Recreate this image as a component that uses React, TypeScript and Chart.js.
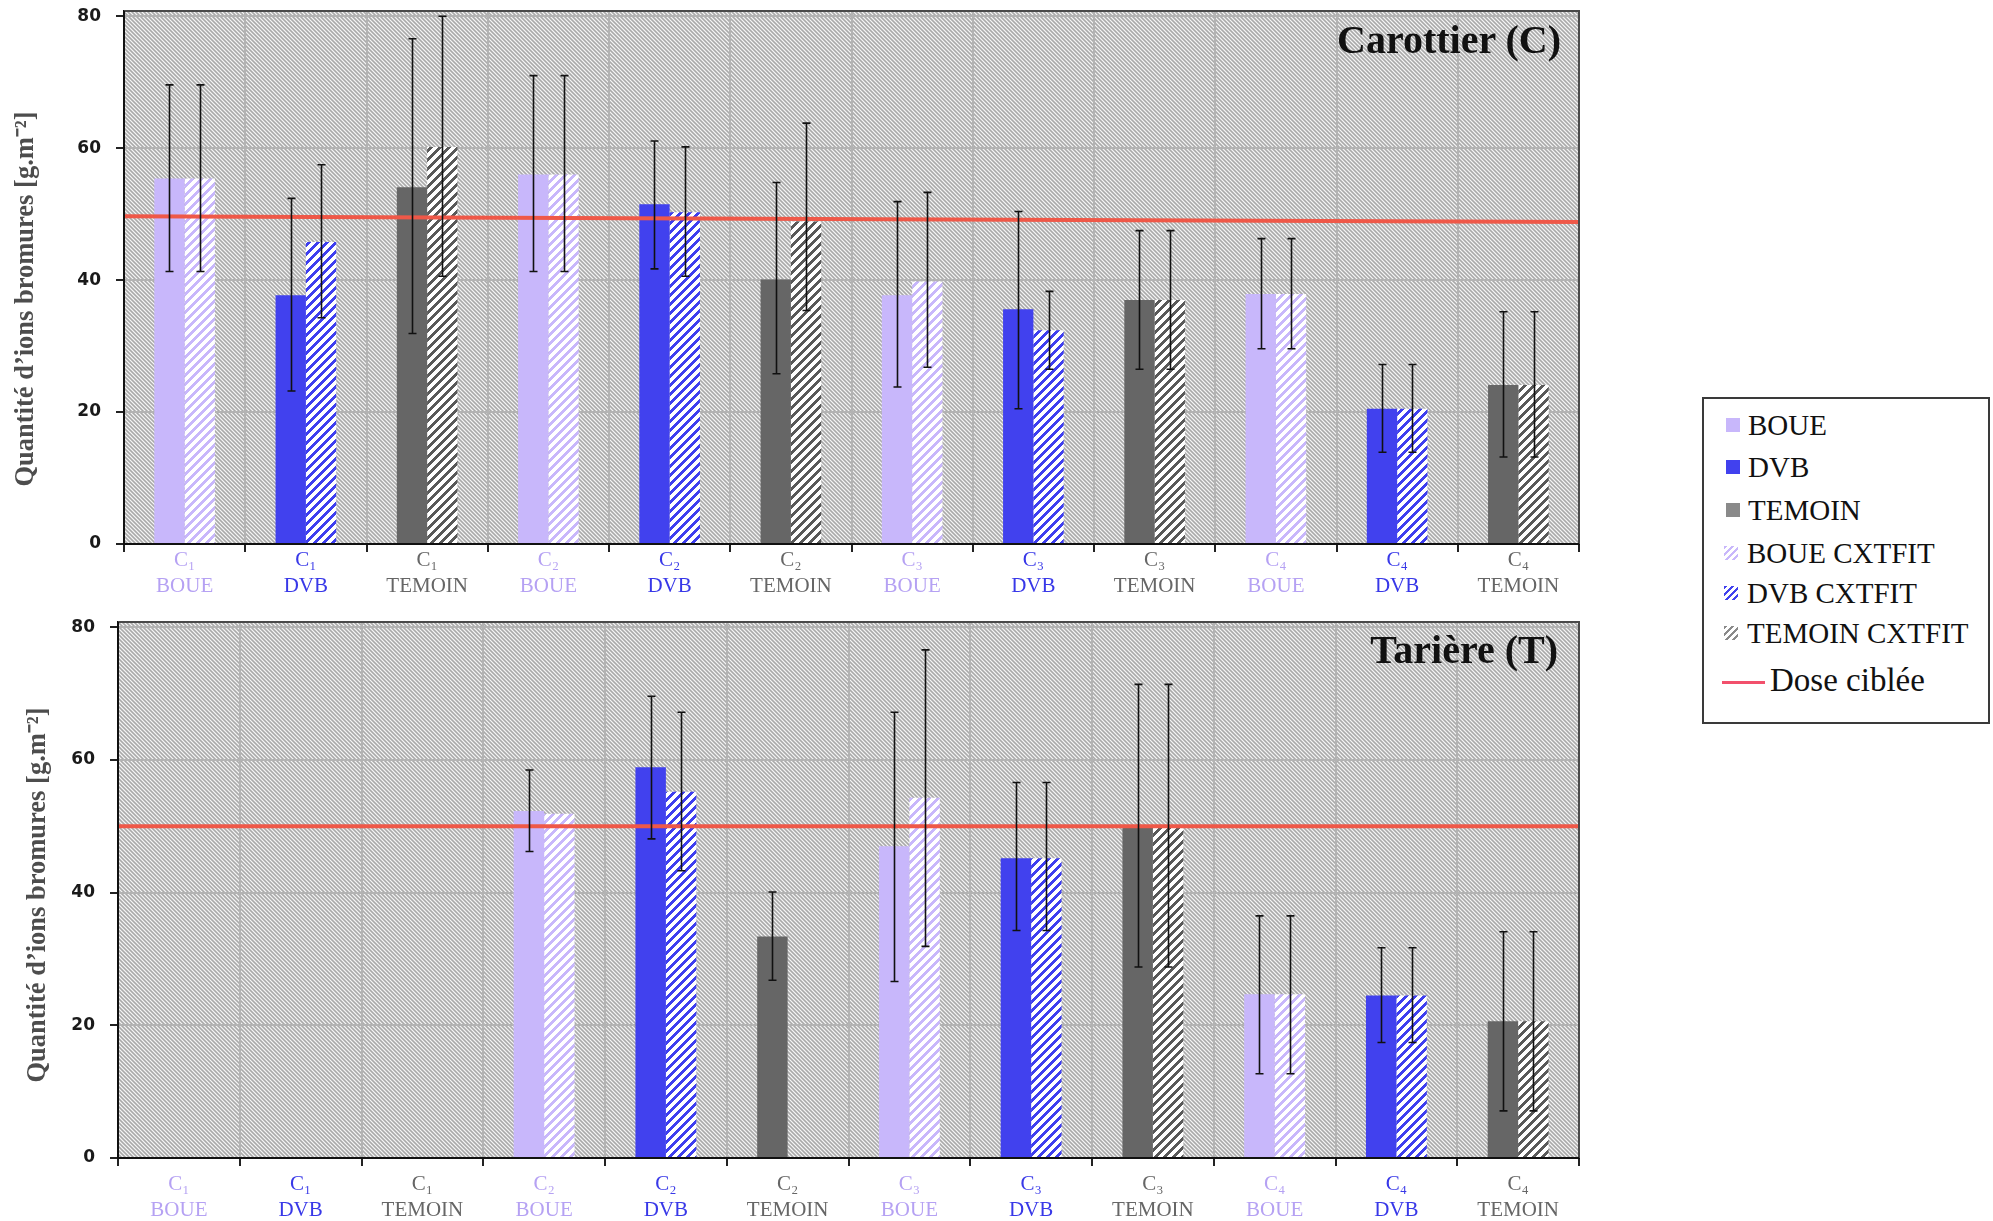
import React, { useEffect, useRef } from 'react';
import { Chart, registerables } from 'chart.js';

Chart.register(...registerables);

// ---------- data ----------
const siteLabels = ['C₁', 'C₁', 'C₁', 'C₂', 'C₂', 'C₂', 'C₃', 'C₃', 'C₃', 'C₄', 'C₄', 'C₄'];
const treatmentLabels = ['BOUE', 'DVB', 'TEMOIN', 'BOUE', 'DVB', 'TEMOIN', 'BOUE', 'DVB', 'TEMOIN', 'BOUE', 'DVB', 'TEMOIN'];
const yTicks = [0, 20, 40, 60, 80];
const yMax = 80.8;

// Carottier (C)
const carottierMeasured = [55.4, 37.7, 54.1, 56.0, 51.5, 40.1, 37.7, 35.6, 37.0, 37.9, 20.5, 24.1];
const carottierCxtfit = [55.4, 45.8, 60.2, 56.0, 50.3, 48.9, 39.8, 32.4, 37.0, 37.9, 20.5, 24.1];
const carottierMeasuredLow = [41.3, 23.2, 31.9, 41.3, 41.7, 25.8, 23.8, 20.5, 26.5, 29.6, 13.9, 13.2];
const carottierMeasuredHigh = [69.6, 52.4, 76.6, 71.0, 61.1, 54.8, 51.9, 50.4, 47.5, 46.3, 27.2, 35.2];
const carottierCxtfitLow = [41.3, 34.3, 40.6, 41.3, 40.6, 35.4, 26.8, 26.5, 26.5, 29.6, 13.9, 13.2];
const carottierCxtfitHigh = [69.6, 57.5, 80.0, 71.0, 60.2, 63.8, 53.3, 38.3, 47.5, 46.3, 27.2, 35.2];
const carottierDose = [49.7, 48.8];

// Tarière (T)
const tariereMeasured = [null, null, null, 52.3, 58.9, 33.4, 47.0, 45.2, 49.9, 24.7, 24.5, 20.6];
const tariereCxtfit = [null, null, null, 51.9, 55.2, null, 54.3, 45.2, 49.9, 24.7, 24.5, 20.6];
const tariereMeasuredLow = [null, null, null, 46.2, 48.1, 26.8, 26.6, 34.3, 28.8, 12.7, 17.4, 7.1];
const tariereMeasuredHigh = [null, null, null, 58.5, 69.6, 40.1, 67.2, 56.6, 71.4, 36.5, 31.7, 34.1];
const tariereCxtfitLow = [null, null, null, null, 43.3, null, 31.9, 34.3, 28.8, 12.7, 17.4, 7.1];
const tariereCxtfitHigh = [null, null, null, null, 67.2, null, 76.6, 56.6, 71.4, 36.5, 31.7, 34.1];
const tariereDose = [50.0, 50.0];

const yTitle = 'Quantité d’ions bromures [g.m⁻²]';
const legendLabels = ['BOUE', 'DVB', 'TEMOIN', 'BOUE CXTFIT', 'DVB CXTFIT', 'TEMOIN CXTFIT'];
const doseLabel = 'Dose ciblée';

// ---------- styles ----------
const fillColors: any = { BOUE: '#C8B7FB', DVB: '#4141EE', TEMOIN: '#666666' };
const stripeColors: any = { BOUE: '#C8B7FB', DVB: '#3E3EEF', TEMOIN: '#595959' };
const textColors: any = { BOUE: '#B5A1F3', DVB: '#3838E8', TEMOIN: '#666666' };
const legendFill: any = { BOUE: '#C8B7FB', DVB: '#4141EE', TEMOIN: '#8a8a8a' };
const doseColor = '#EF5848';
const doseLegendColor = '#F2506C';
const bgShades = ['#a9a9a9', '#c4c4c4', '#f4f4f4', '#c4c4c4'];

function makeChart(canvas: HTMLCanvasElement, spec: any) {
  const ctx = canvas.getContext('2d') as CanvasRenderingContext2D;
  const tileOf = (period: number) => {
    const tile = document.createElement('canvas');
    tile.width = period;
    tile.height = period;
    return tile;
  };
  // soft "\" hatch for the plot background
  const bgTile = tileOf(4);
  const bg = bgTile.getContext('2d') as CanvasRenderingContext2D;
  for (let y = 0; y < 4; y++) {
    for (let x = 0; x < 4; x++) {
      bg.fillStyle = bgShades[(((x - y) % 4) + 4) % 4];
      bg.fillRect(x, y, 1, 1);
    }
  }
  const bgPattern = ctx.createPattern(bgTile, 'repeat') as CanvasPattern;
  // "/" hatch for the CXTFIT bars
  const stripe = (fg: string) => {
    const period = 9;
    const t = tileOf(period);
    const g = t.getContext('2d') as CanvasRenderingContext2D;
    g.fillStyle = '#ffffff';
    g.fillRect(0, 0, period, period);
    g.fillStyle = fg;
    for (let y = 0; y < period; y++) {
      for (let x = 0; x < period; x++) {
        if ((x + y) % period < 4) g.fillRect(x, y, 1, 1);
      }
    }
    return ctx.createPattern(t, 'repeat') as CanvasPattern;
  };
  const fitFill = treatmentLabels.map((t) => stripe(stripeColors[t]));
  const lows = [spec.mLow, spec.fLow];
  const highs = [spec.mHigh, spec.fHigh];

  const plugins: any[] = [
    {
      id: 'plotBg',
      beforeDraw(chart: any) {
        const { ctx: c, chartArea: a } = chart;
        c.save();
        c.fillStyle = bgPattern;
        c.fillRect(a.left, a.top, a.right - a.left, a.bottom - a.top);
        c.restore();
      },
    },
    {
      id: 'doseLine',
      afterDatasetsDraw(chart: any) {
        const { ctx: c, chartArea: a } = chart;
        const ys = chart.scales.y;
        c.save();
        c.strokeStyle = doseColor;
        c.lineWidth = 4;
        c.beginPath();
        c.moveTo(a.left, ys.getPixelForValue(spec.dose[0]));
        c.lineTo(a.right, ys.getPixelForValue(spec.dose[1]));
        c.stroke();
        c.restore();
      },
    },
    {
      id: 'errBars',
      afterDatasetsDraw(chart: any) {
        const { ctx: c } = chart;
        const ys = chart.scales.y;
        c.save();
        c.strokeStyle = '#111111';
        c.lineWidth = 1.6;
        for (let d = 0; d < 2; d++) {
          const meta = chart.getDatasetMeta(d);
          meta.data.forEach((bar: any, j: number) => {
            const lo = lows[d][j];
            const hi = highs[d][j];
            if (lo == null || hi == null) return;
            const x = Math.round(bar.x) + 0.5;
            const y1 = ys.getPixelForValue(hi);
            const y2 = ys.getPixelForValue(lo);
            c.beginPath();
            c.moveTo(x, y1);
            c.lineTo(x, y2);
            c.moveTo(x - 4, y1);
            c.lineTo(x + 4, y1);
            c.moveTo(x - 4, y2);
            c.lineTo(x + 4, y2);
            c.stroke();
          });
        }
        c.restore();
      },
    },
    {
      id: 'frame',
      afterDatasetsDraw(chart: any) {
        const { ctx: c, chartArea: a } = chart;
        c.save();
        c.lineWidth = 2;
        c.strokeStyle = '#4a4a4a';
        c.beginPath();
        c.moveTo(a.left, a.top);
        c.lineTo(a.right, a.top);
        c.lineTo(a.right, a.bottom);
        c.stroke();
        c.strokeStyle = '#111111';
        c.beginPath();
        c.moveTo(a.left, a.top);
        c.lineTo(a.left, a.bottom);
        c.lineTo(a.right, a.bottom);
        c.stroke();
        c.restore();
      },
    },
    {
      id: 'yTitle',
      afterDraw(chart: any) {
        const c = chart.ctx;
        c.save();
        c.translate(spec.titleX, spec.titleY);
        c.rotate(-Math.PI / 2);
        c.font = 'bold 26.5px "Liberation Serif", serif';
        c.fillStyle = '#4d4d4d';
        c.textAlign = 'center';
        c.textBaseline = 'middle';
        c.fillText(yTitle, 0, 0);
        c.restore();
      },
    },
  ];

  return new Chart(ctx, {
    type: 'bar',
    data: {
      labels: siteLabels.map((s, i) => [s, treatmentLabels[i]]),
      datasets: [
        {
          label: 'Mesure',
          data: spec.measured,
          backgroundColor: treatmentLabels.map((t) => fillColors[t]),
          borderWidth: 0,
        },
        {
          label: 'CXTFIT',
          data: spec.cxtfit,
          backgroundColor: fitFill,
          borderWidth: 0,
        },
      ] as any,
    },
    options: {
      responsive: false,
      animation: false,
      devicePixelRatio: 1,
      categoryPercentage: 0.5,
      barPercentage: 1,
      layout: { padding: { left: 0, top: spec.padTop, right: 1600 - 1579, bottom: 0 } },
      plugins: { legend: { display: false }, tooltip: { enabled: false }, title: { display: false } },
      scales: {
        x: {
          type: 'category',
          offset: true,
          grid: { offset: true, color: '#b3b3b3', lineWidth: 2, tickColor: '#222222', tickLength: 8, drawTicks: true },
          border: { display: true, color: '#111111', width: 2 },
          ticks: {
            color: (c: any) => textColors[treatmentLabels[c.index]] || '#666',
            font: { family: '"Liberation Serif", serif', size: 21, lineHeight: 1.22 },
            padding: spec.labelPad,
            maxRotation: 0,
            minRotation: 0,
            autoSkip: false,
          },
          afterFit: (s: any) => {
            s.height = spec.axisHeight;
            s.paddingLeft = 0;
            s.paddingRight = 0;
          },
        },
        y: {
          min: 0,
          max: yMax,
          afterBuildTicks: (s: any) => {
            s.ticks = yTicks.map((v) => ({ value: v }));
          },
          afterFit: (s: any) => {
            s.width = spec.axisWidth;
            s.paddingTop = 0;
            s.paddingBottom = 0;
          },
          grid: { color: '#b3b3b3', lineWidth: 2, tickColor: '#222222', tickLength: 8, drawTicks: true },
          border: { display: true, color: '#111111', width: 2 },
          ticks: {
            color: '#1a1a1a',
            font: { family: '"DejaVu Sans", sans-serif', size: 17, weight: 'bold' },
            padding: 15,
          },
          title: { display: false, text: yTitle },
        },
      },
    } as any,
    plugins,
  });
}

const carottierSpec = {
  measured: carottierMeasured,
  cxtfit: carottierCxtfit,
  mLow: carottierMeasuredLow,
  mHigh: carottierMeasuredHigh,
  fLow: carottierCxtfitLow,
  fHigh: carottierCxtfitHigh,
  dose: carottierDose,
  axisWidth: 124,
  padTop: 11,
  axisHeight: 56,
  titleX: 26,
  titleY: 299,
  labelPad: -4,
};

const tariereSpec = {
  measured: tariereMeasured,
  cxtfit: tariereCxtfit,
  mLow: tariereMeasuredLow,
  mHigh: tariereMeasuredHigh,
  fLow: tariereCxtfitLow,
  fHigh: tariereCxtfitHigh,
  dose: tariereDose,
  axisWidth: 118,
  padTop: 22,
  axisHeight: 63,
  titleX: 38,
  titleY: 295,
  labelPad: 6,
};

const serif = '"Liberation Serif", "Times New Roman", serif';

function Swatch({ name, hatched, top }: any) {
  const key = name.split(' ')[0];
  const color = legendFill[key];
  const style: any = {
    position: 'absolute',
    left: hatched ? 1724 : 1726,
    top,
    width: 14,
    height: 14,
    background: hatched
      ? `repeating-linear-gradient(135deg, ${color} 0px, ${color} 2.2px, #ffffff 2.2px, #ffffff 5px)`
      : color,
  };
  return <div style={style} />;
}

export default function App() {
  const topRef = useRef<HTMLCanvasElement>(null);
  const botRef = useRef<HTMLCanvasElement>(null);

  useEffect(() => {
    const a = makeChart(topRef.current as HTMLCanvasElement, carottierSpec);
    const b = makeChart(botRef.current as HTMLCanvasElement, tariereSpec);
    return () => {
      a.destroy();
      b.destroy();
    };
  }, []);

  const rowBaselines = [435, 477, 520, 563, 603, 643];
  const textStyle = (baseline: number, size: number, left: number): any => ({
    position: 'absolute',
    left,
    top: baseline - 0.8375 * size,
    font: `${size}px ${serif}`,
    lineHeight: `${size}px`,
    color: '#111111',
    whiteSpace: 'nowrap',
  });

  return (
    <div style={{ position: 'fixed', left: 0, top: 0, width: 1993, height: 1221, background: '#ffffff', overflow: 'hidden' }}>
      <canvas ref={topRef} width={1600} height={600} style={{ position: 'absolute', left: 0, top: 0 }} />
      <canvas ref={botRef} width={1600} height={621} style={{ position: 'absolute', left: 0, top: 600 }} />
      <div
        style={{
          position: 'absolute',
          left: 1000,
          width: 561,
          top: 20,
          textAlign: 'right',
          font: `bold 40px ${serif}`,
          lineHeight: '40px',
          color: '#111111',
        }}
      >
        Carottier (C)
      </div>
      <div
        style={{
          position: 'absolute',
          left: 1000,
          width: 558,
          top: 630,
          textAlign: 'right',
          font: `bold 40px ${serif}`,
          lineHeight: '40px',
          color: '#111111',
        }}
      >
        Tarière (T)
      </div>
      <div
        style={{
          position: 'absolute',
          left: 1702,
          top: 397,
          width: 288,
          height: 327,
          border: '2px solid #3a3a3a',
          boxSizing: 'border-box',
          background: '#ffffff',
        }}
      />
      {legendLabels.map((name, i) => (
        <React.Fragment key={name}>
          <Swatch name={name} hatched={i >= 3} top={rowBaselines[i] - 17} />
          <div style={textStyle(rowBaselines[i], 29, i >= 3 ? 1747 : 1748)}>{name}</div>
        </React.Fragment>
      ))}
      <div style={{ position: 'absolute', left: 1722, top: 681, width: 43, height: 3, background: doseLegendColor }} />
      <div style={textStyle(692, 33, 1770)}>{doseLabel}</div>
    </div>
  );
}
